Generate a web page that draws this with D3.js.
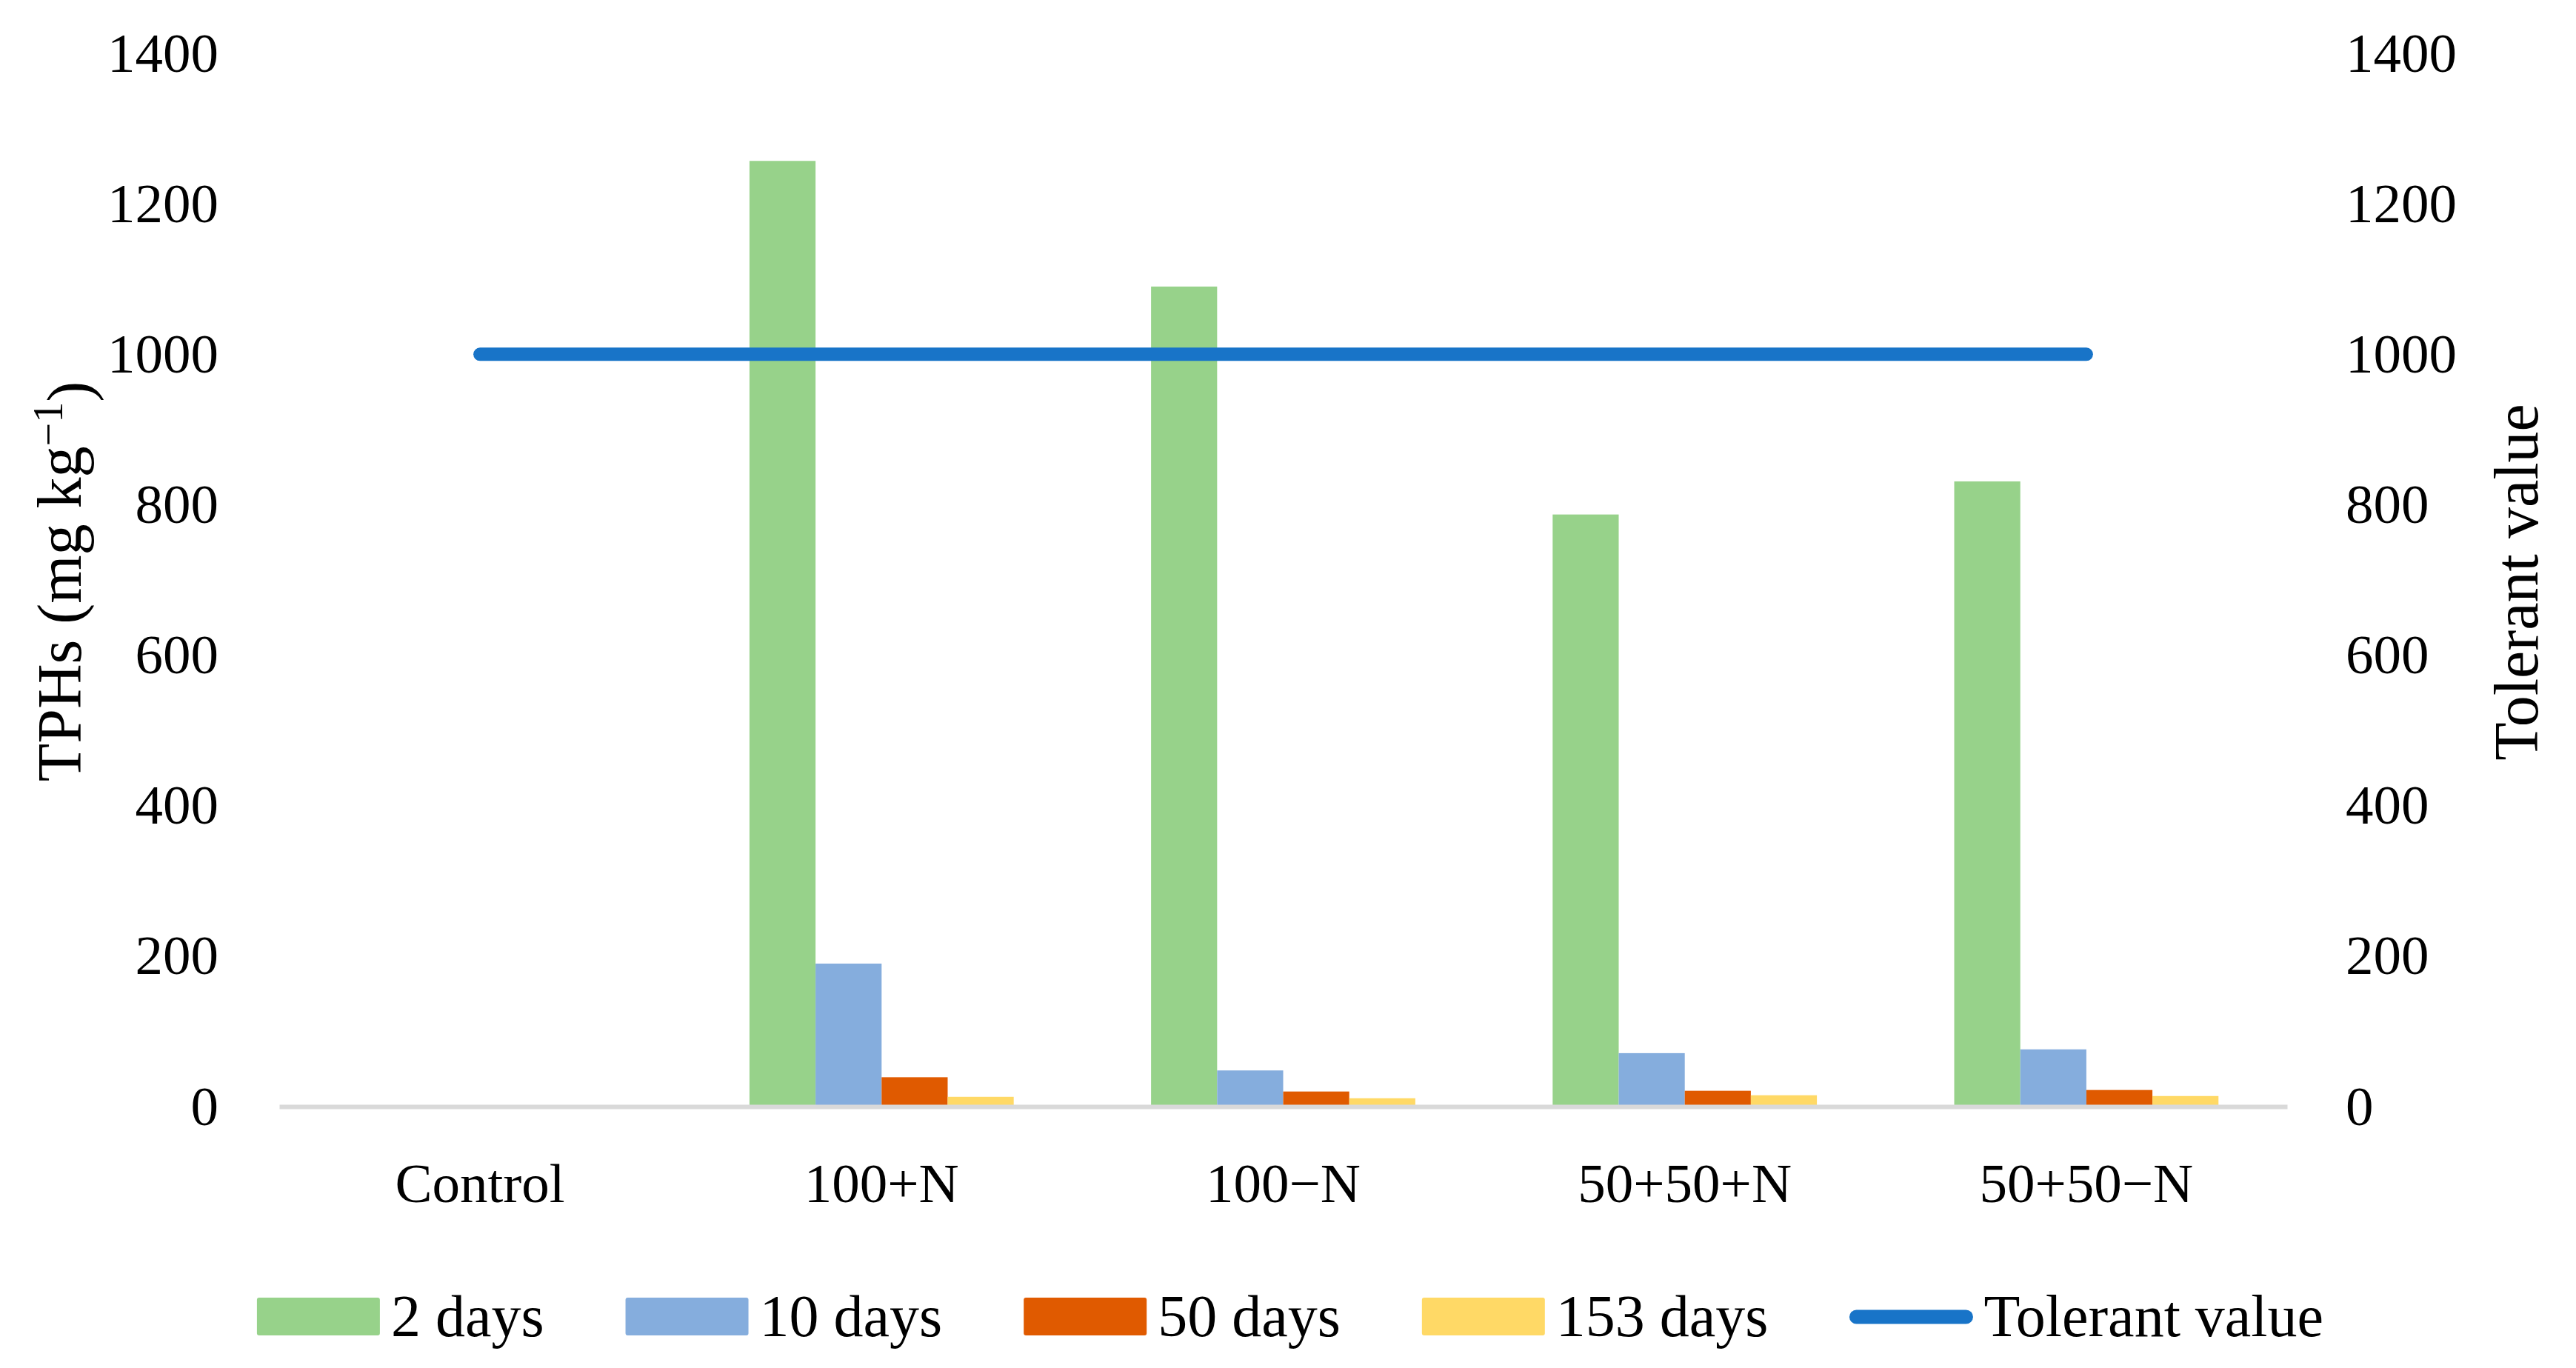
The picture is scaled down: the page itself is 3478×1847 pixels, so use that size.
<!DOCTYPE html>
<html>
<head>
<meta charset="utf-8">
<script src="https://cdn.jsdelivr.net/npm/d3@7"></script>
<style>
  body { margin: 0; background: #fff; }
  text { font-family: "Liberation Serif", "Times New Roman", serif; fill: #000; }
</style>
</head>
<body>
<div id="chart"></div>
<script>
const categories = ["Control", "100+N", "100\u2212N", "50+50+N", "50+50\u2212N"];
const seriesNames = ["2 days", "10 days", "50 days", "153 days"];
const days2 = [0, 1257, 1090, 787, 831];
const days10 = [0, 190, 48, 71, 76];
const days50 = [0, 39, 20, 21, 22];
const days153 = [0, 13, 11, 15, 14];
const tolerant = [1000, 1000, 1000, 1000, 1000];
const yTicks = [0, 200, 400, 600, 800, 1000, 1200, 1400];
const colors = ["#97d28a", "#85addd", "#e05a00", "#ffd966"];
const lineColor = "#1874c8";

const W = 3478, H = 1847;
const plot = { left: 377, right: 3088, top: 72, bottom: 1494 };

const svg = d3.select("#chart").append("svg")
    .attr("width", W)
    .attr("height", H);

svg.append("rect").attr("width", W).attr("height", H).attr("fill", "#fff");

const allSeries = [days2, days10, days50, days153];
const barData = [];
categories.forEach((c, i) => {
    allSeries.forEach((s, j) => {
        barData.push({ cat: c, series: seriesNames[j], value: s[i], color: colors[j] });
    });
});

const x0 = d3.scaleBand()
    .domain(categories)
    .range([plot.left, plot.right])
    .padding(0);

const barW = x0.bandwidth() * 0.658 / seriesNames.length;
const groupW = barW * seriesNames.length;

const x1 = d3.scaleBand()
    .domain(seriesNames)
    .range([0, groupW]);

const y = d3.scaleLinear()
    .domain([0, 1400])
    .range([plot.bottom, plot.top]);

const yRight = d3.scaleLinear()
    .domain([0, 1400])
    .range([plot.bottom, plot.top]);

// bars
svg.append("g")
    .selectAll("rect")
    .data(barData)
    .enter()
    .append("rect")
    .attr("x", d => x0(d.cat) + (x0.bandwidth() - groupW) / 2 + x1(d.series))
    .attr("y", d => y(d.value))
    .attr("width", x1.bandwidth())
    .attr("height", d => y(0) - y(d.value))
    .attr("fill", d => d.color);

// category axis line
const xAxis = svg.append("g")
    .attr("transform", `translate(0,${plot.bottom})`)
    .call(d3.axisBottom(x0).tickSize(0).tickPadding(76));
xAxis.select(".domain").attr("stroke", "#d9d9d9").attr("stroke-width", 6);
xAxis.selectAll("text")
    .style("font-family", "Liberation Serif")
    .style("font-size", "75px")
    .attr("fill", "#000");

// left axis
const yAxis = svg.append("g")
    .attr("transform", "translate(295,0)")
    .call(d3.axisLeft(y).tickValues(yTicks).tickSize(0).tickPadding(0).tickFormat(d3.format("d")));
yAxis.select(".domain").remove();
yAxis.selectAll("text")
    .style("font-family", "Liberation Serif")
    .style("font-size", "75px")
    .attr("fill", "#000");

// right axis
const yAxisR = svg.append("g")
    .attr("transform", "translate(3167,0)")
    .call(d3.axisRight(yRight).tickValues(yTicks).tickSize(0).tickPadding(0).tickFormat(d3.format("d")));
yAxisR.select(".domain").remove();
yAxisR.selectAll("text")
    .style("font-family", "Liberation Serif")
    .style("font-size", "75px")
    .attr("fill", "#000");

// tolerant value line
const line = d3.line()
    .x((d, i) => x0(categories[i]) + x0.bandwidth() / 2)
    .y(d => yRight(d));

svg.append("path")
    .datum(tolerant)
    .attr("d", line)
    .attr("fill", "none")
    .attr("stroke", lineColor)
    .attr("stroke-width", 18)
    .attr("stroke-linecap", "round");

// axis titles
const leftTitle = svg.append("text")
    .attr("transform", "translate(80,785) rotate(-90)")
    .attr("text-anchor", "middle")
    .attr("dy", "0.35em")
    .style("font-size", "84px");
leftTitle.append("tspan").text("TPHs (mg kg");
leftTitle.append("tspan").attr("dy", "-0.45em").style("font-size", "56px").text("\u22121");
leftTitle.append("tspan").attr("dy", "0.45em").text(")");

svg.append("text")
    .attr("transform", "translate(3397,786) rotate(-90)")
    .attr("text-anchor", "middle")
    .attr("dy", "0.35em")
    .style("font-size", "84px")
    .text("Tolerant value");

// legend
const legendItems = seriesNames.map((s, i) => ({ label: s, color: colors[i], type: "rect" }))
    .concat([{ label: "Tolerant value", color: lineColor, type: "line" }]);

const legend = svg.append("g").attr("transform", "translate(0,1778)");
const swW = 166, swGap = 15, itemGap = 110;
let lx = 0;
const items = legend.selectAll("g")
    .data(legendItems)
    .enter()
    .append("g");

items.each(function(d) {
    const g = d3.select(this);
    if (d.type === "rect") {
        g.append("rect").attr("x", 0).attr("y", -26).attr("width", swW).attr("height", 51)
            .attr("rx", 3).attr("fill", d.color);
    } else {
        g.append("line").attr("x1", 9).attr("x2", swW - 9).attr("y1", 0).attr("y2", 0)
            .attr("stroke", d.color).attr("stroke-width", 19).attr("stroke-linecap", "round");
    }
    const t = g.append("text")
        .attr("x", swW + swGap)
        .attr("dy", "0.33em")
        .style("font-size", "80px")
        .text(d.label);
    d.w = swW + swGap + t.node().getComputedTextLength();
});

items.attr("transform", d => {
    const tx = lx;
    lx += d.w + itemGap;
    return `translate(${tx},0)`;
});
const totalW = lx - itemGap;
legend.attr("transform", `translate(${1742 - totalW / 2},1778)`);
</script>
</body>
</html>
